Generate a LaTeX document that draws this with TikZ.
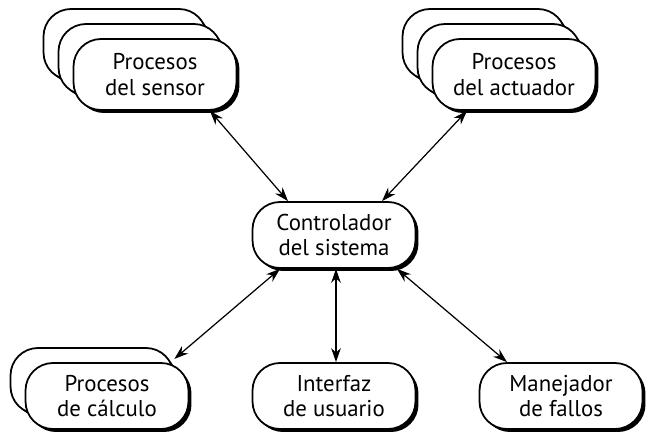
\documentclass[tikz,border=0pt]{standalone}
\usepackage{fontspec}
\setmainfont{PT Sans}
\usetikzlibrary{arrows.meta,shadows}
\tikzset{
    procbox/.style={draw, line width=1pt, fill=white, rounded corners=0.55cm,
        minimum width=3.26cm, minimum height=1.32cm, align=center,
        font=\fontsize{13}{14.5}\selectfont,
        drop shadow={shadow xshift=0.06cm, shadow yshift=-0.06cm, opacity=1, fill=black}},
    tallbox/.style={procbox, minimum height=1.42cm},
    link/.style={<->, >={Stealth[length=8pt,width=5.5pt]}, line width=0.7pt}
}
\begin{document}
\begin{tikzpicture}[x=0.02cm, y=-0.02cm]
        \useasboundingbox (0, 0) rectangle (647, 438);
        \node[tallbox] (sensorB) at (125, 44.5) {};
        \node[tallbox] (sensorM) at (140, 59.5) {};
        \node[tallbox] (sensor) at (155, 74.5) {Procesos\\del sensor};
        \node[tallbox] (actB) at (484, 44.5) {};
        \node[tallbox] (actM) at (499, 59.5) {};
        \node[tallbox] (act) at (514, 74.5) {Procesos\\del actuador};
        \node[procbox] (ctrl) at (334, 235) {Controlador\\del sistema};
        \node[procbox] (calcB) at (92, 381) {};
        \node[procbox] (calc) at (107, 396) {Procesos\\de cálculo};
        \node[procbox] (ui) at (334, 396) {Interfaz\\de usuario};
        \node[procbox] (fault) at (561, 396) {Manejador\\de fallos};
        \draw[link] ([xshift=1.1cm]sensor.south) -- ([xshift=-0.92cm]ctrl.north);
        \draw[link] ([xshift=-0.94cm]act.south) -- ([xshift=0.96cm]ctrl.north);
        \draw[link] ([xshift=-1.08cm]ctrl.south) -- (calcB.15);
        \draw[link] ([xshift=0.04cm]ctrl.south) -- ([xshift=0.04cm]ui.north);
        \draw[link] ([xshift=1.26cm]ctrl.south) -- ([xshift=-1.08cm]fault.north);
    \end{tikzpicture}
\end{document}
